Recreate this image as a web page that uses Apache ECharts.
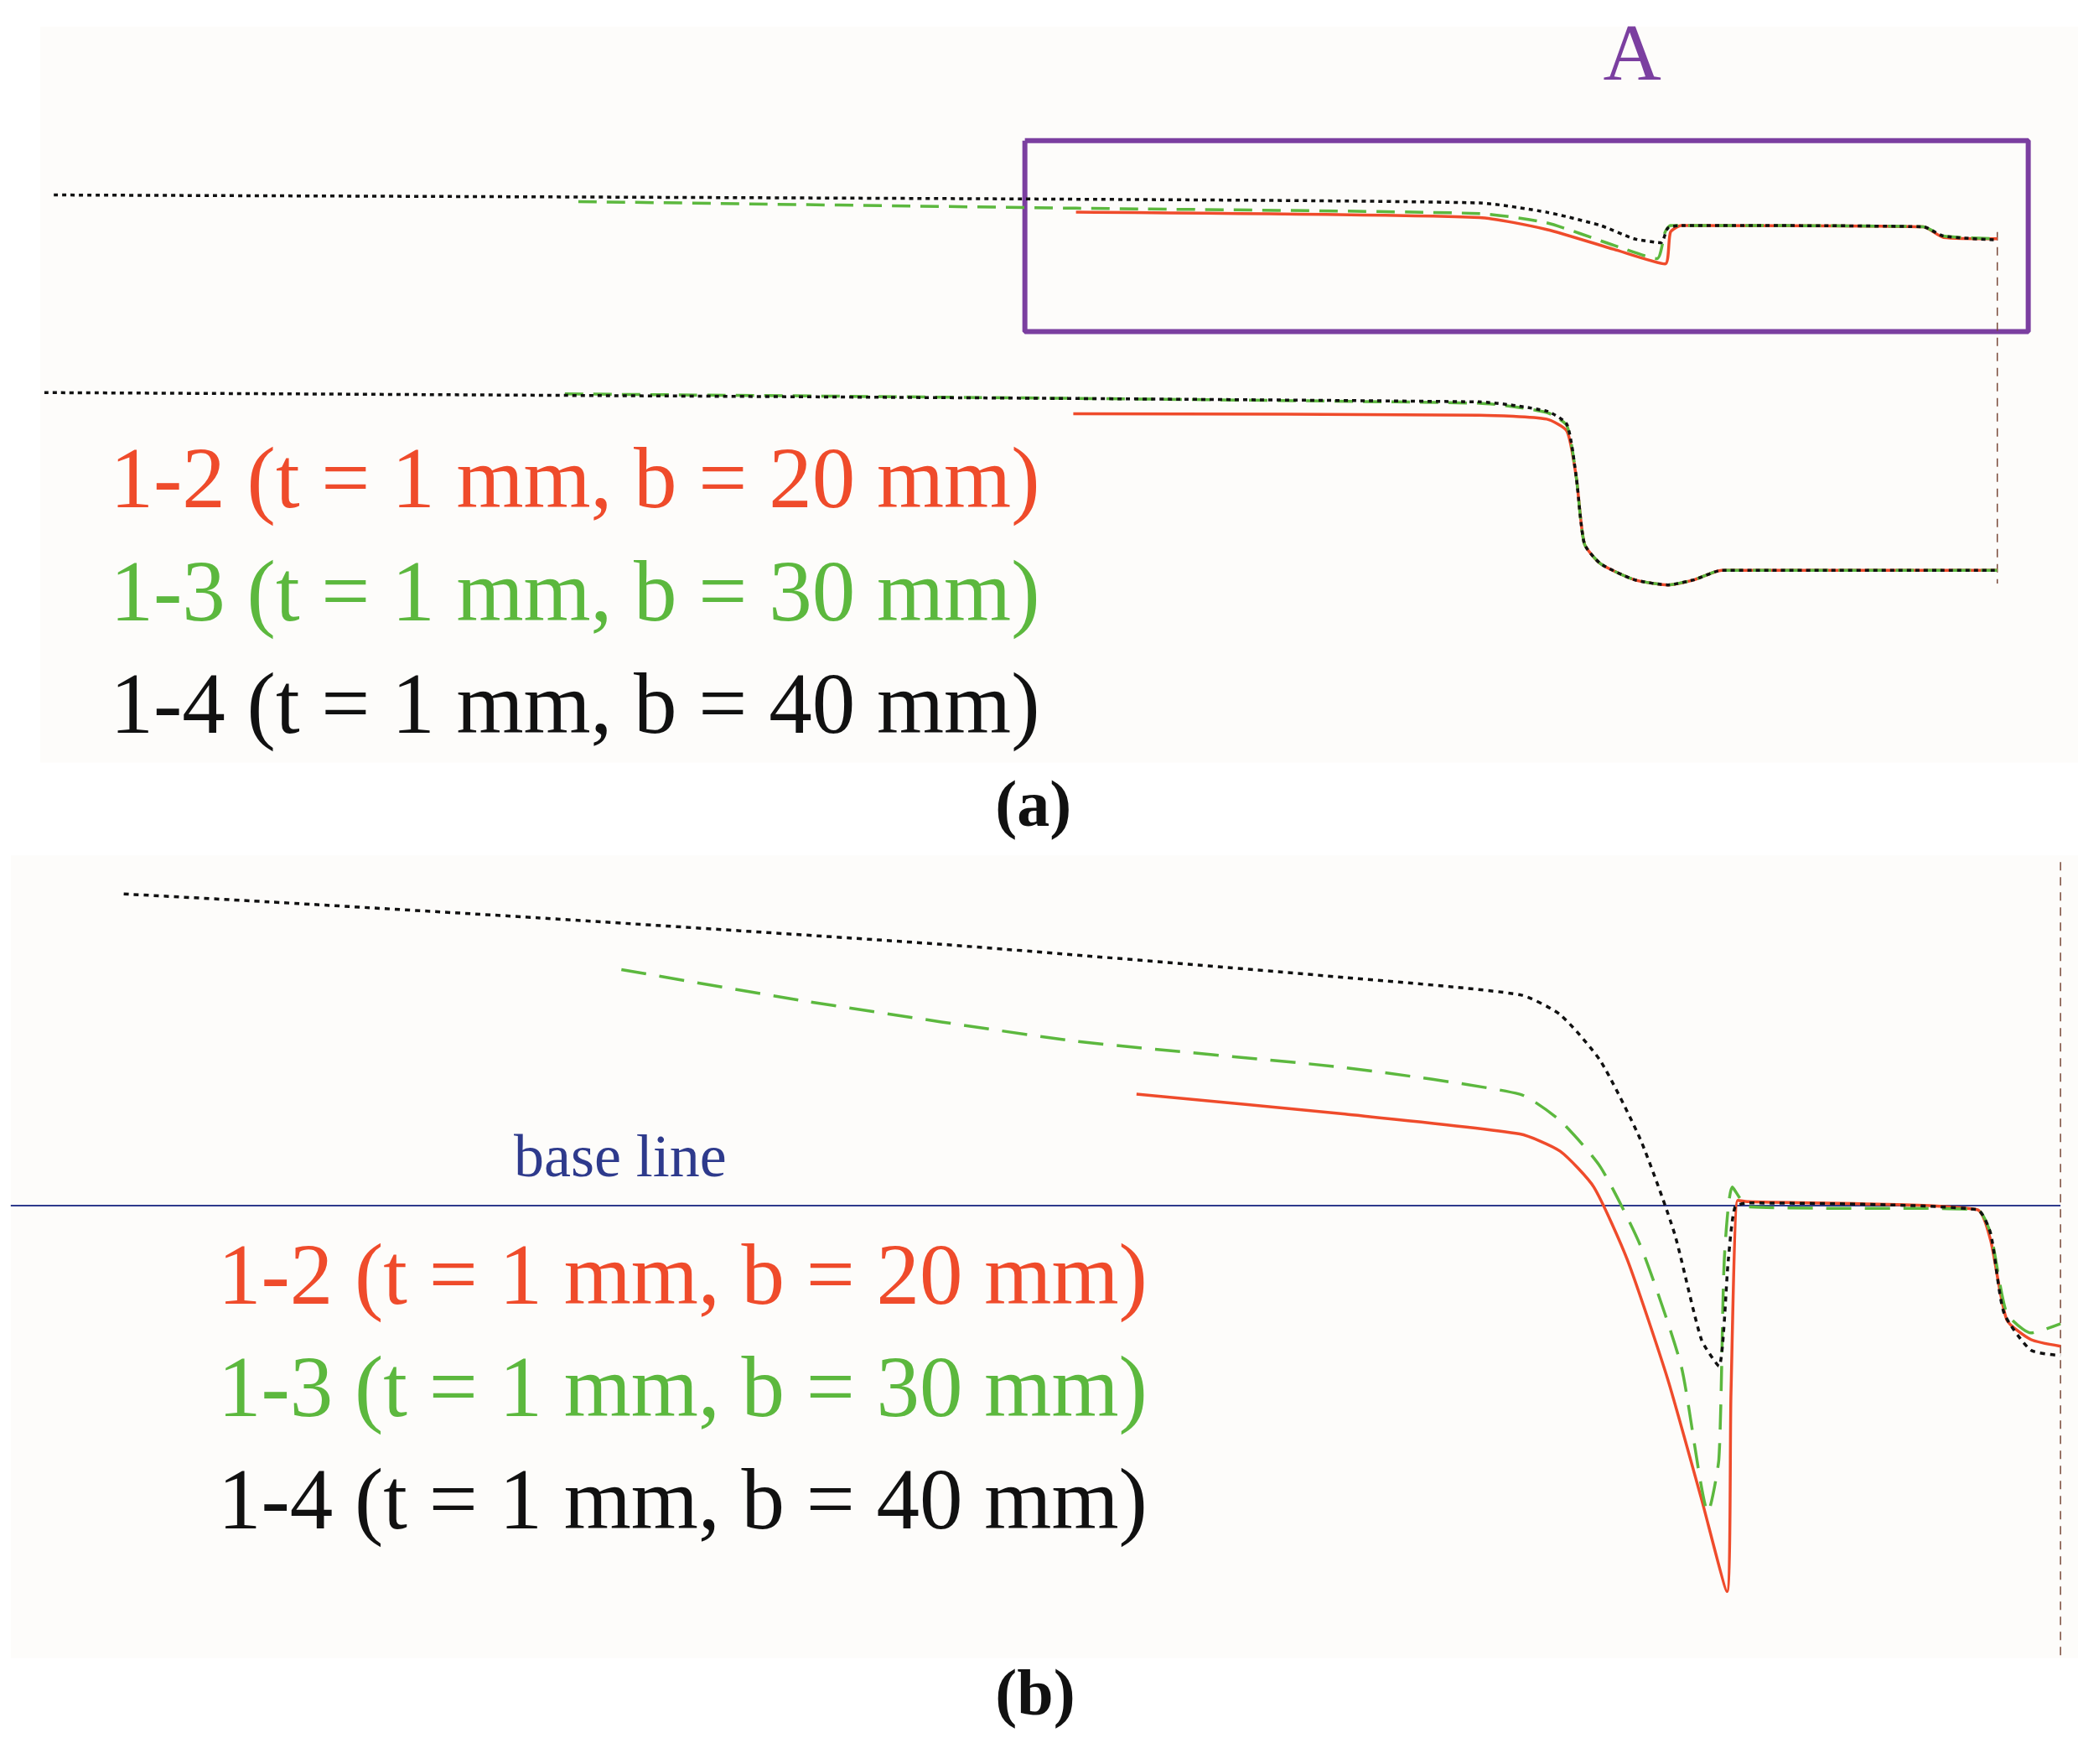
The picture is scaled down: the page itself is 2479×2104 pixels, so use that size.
<!DOCTYPE html>
<html lang="en">
<head>
<meta charset="UTF-8">
<title>curves a/b</title>
<style>
    * { margin: 0; padding: 0; }
    #chart { width: 2479px; height: 2104px; background: #fff; }
</style>
<script src="https://cdn.jsdelivr.net/npm/echarts@6/dist/echarts.min.js"></script>
</head>
<body>
<div id="chart"></div>
<script>
// coordinates in reference units (1545 x 1330 drawing space)
var aBlackTop = [[40,147],[760,150],[1100,153],[1150,160],[1190,170],[1215,180],[1235,183],[1240,172],[1250,170],[1430,171],[1445,178],[1485,181]];
var aGreenTop = [[430,152],[800,157],[1100,161],[1150,168],[1200,185],[1232,195],[1238,175],[1242,170],[1430,171],[1445,178],[1485,180]];
var aRedTop = [[800,160],[1100,164],[1150,173],[1200,188],[1238,199],[1242,175],[1250,170],[1430,171],[1445,179],[1485,180]];
var aBlackLow = [[33,296],[1100,303],[1150,310],[1165,320],[1172,360],[1178,410],[1190,425],[1215,437],[1240,441],[1260,437],[1280,430],[1485,430]];
var aGreenLow = [[420,297],[1100,304],[1150,311],[1165,321],[1172,360],[1178,410],[1190,425],[1215,437],[1240,441],[1260,437],[1280,430],[1485,430]];
var aRedLow = [[798,312],[1100,313],[1150,316],[1165,325],[1172,360],[1178,410],[1190,425],[1215,437],[1240,441],[1260,437],[1280,430],[1485,430]];
var bBlack = [[92,674],[200,680],[400,692],[700,712],[1000,737],[1130,750],[1160,765],[1190,800],[1220,860],[1245,930],[1265,1010],[1278,1030],[1285,950],[1290,910],[1300,907],[1470,912],[1480,930],[1490,990],[1510,1018],[1532,1022]];
var bGreen = [[462,731],[600,755],[800,785],[1000,805],[1130,825],[1160,845],[1190,880],[1220,940],[1250,1030],[1270,1140],[1278,1100],[1282,950],[1288,895],[1300,910],[1470,912],[1480,930],[1492,990],[1510,1005],[1532,998]];
var bRed = [[845,825],[1000,840],[1130,855],[1160,868],[1185,895],[1210,950],[1240,1040],[1265,1130],[1284,1200],[1287,1050],[1292,905],[1300,906],[1470,912],[1480,935],[1492,995],[1510,1010],[1532,1015]];
var baseLine = [[8,909],[1532,909]];
var guideA = [[1485,175],[1485,440]];
var guideB = [[1532,650],[1532,1250]];
var boxA = [[762,106],[1508,106],[1508,250],[762,250],[762,106]];
var labels = ['1-2 (t = 1 mm, b = 20 mm)', '1-3 (t = 1 mm, b = 30 mm)', '1-4 (t = 1 mm, b = 40 mm)'];

var RED = '#ef4b2b', GREEN = '#5cb83e', BLACK = '#111';
var SX = 2479 / 1545, SY = 2104 / 1330;
var serif = '"Liberation Serif", "DejaVu Serif", serif';

function line(data, color, type, width, smooth) {
    return {
        type: 'line', data: data, symbol: 'none', silent: true,
        smooth: smooth || false,
        lineStyle: { color: color, type: type, width: width || 3.5 }
    };
}

function txt(x, y, s, color, size, bold) {
    return {
        type: 'text', left: x * SX, top: y * SY,
        style: { text: s, fill: color, font: (bold ? 'bold ' : '') + size + 'px ' + serif }
    };
}

var chart = echarts.init(document.getElementById('chart'));
var graphics = [
    { type: 'rect', shape: { x: 30 * SX, y: 20 * SY, width: 1515 * SX, height: 555 * SY }, style: { fill: '#fdfcfa' }, z: -10 },
    { type: 'rect', shape: { x: 8 * SX, y: 645 * SY, width: 1537 * SX, height: 605 * SY }, style: { fill: '#fdfcfa' }, z: -10 },
    txt(1192, 14, 'A', '#7b3fa0', 96),
    txt(740, 585, '(a)', BLACK, 78, true),
    txt(740, 1255, '(b)', BLACK, 78, true),
    txt(382, 852, 'base line', '#2e3a8c', 72)
];
var cols = [RED, GREEN, BLACK];
labels.forEach(function (s, i) {
    graphics.push(txt(82, 333 + i * 85, s, cols[i], 103));
    graphics.push(txt(162, 933 + i * 85, s, cols[i], 103));
});

chart.setOption({
    animation: false,
    grid: { left: 0, right: 0, top: 0, bottom: 0 },
    xAxis: { type: 'value', min: 0, max: 1545, show: false },
    yAxis: { type: 'value', min: 0, max: 1330, inverse: true, show: false },
    graphic: graphics,
    series: [
        line(boxA, '#7b3fa0', 'solid', 6),
        line(guideA, '#7a4a3a', [10, 8], 1.5),
        line(guideB, '#7a4a3a', [10, 8], 1.5),
        line(baseLine, '#2e3a8c', 'solid', 2),
        line(aRedTop, RED, 'solid', 3.5, 0.2),
        line(aGreenTop, GREEN, [22, 12], 3.5, 0.2),
        line(aBlackTop, BLACK, [5, 5], 3.5, 0.2),
        line(aRedLow, RED, 'solid', 3.5, 0.2),
        line(aGreenLow, GREEN, [22, 12], 3.5, 0.2),
        line(aBlackLow, BLACK, [5, 5], 3.5, 0.2),
        line(bRed, RED, 'solid', 3.5, 0.2),
        line(bGreen, GREEN, [30, 16], 3.5, 0.2),
        line(bBlack, BLACK, [6, 6], 3.5, 0.2)
    ]
});
</script>
</body>
</html>
